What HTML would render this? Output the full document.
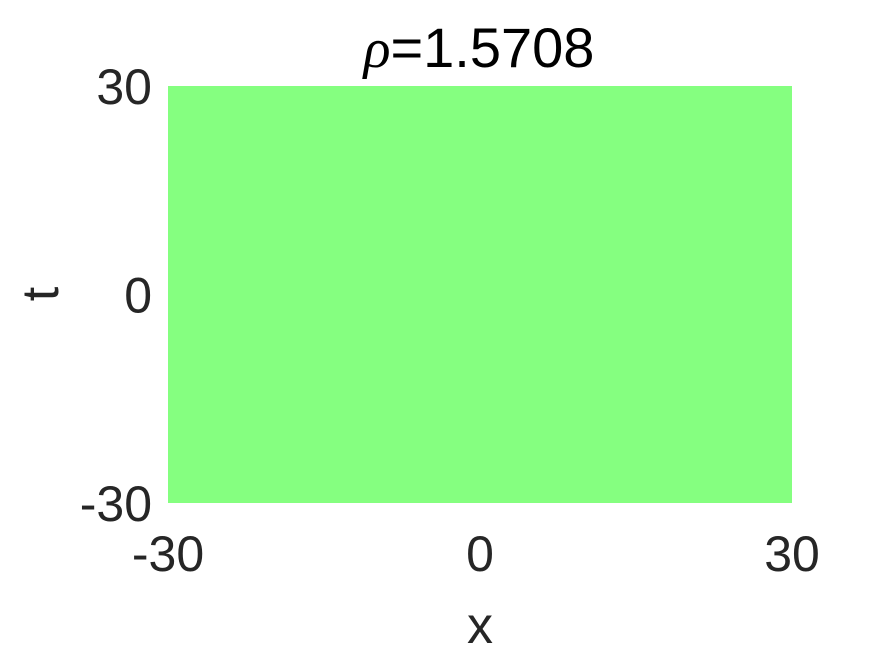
<!DOCTYPE html>
<html><head><meta charset="utf-8"><style>
body{margin:0;background:#fff;width:875px;height:656px;overflow:hidden;font-family:"Liberation Sans",sans-serif;}
</style></head><body>
<svg id="c" width="875" height="656" style="position:absolute;left:0;top:0">
<text x="479" y="67" font-size="56" fill="#000" text-anchor="middle"><tspan font-family="Liberation Serif" font-style="italic">ρ</tspan>=1.5708</text>
<text x="480" y="643" font-size="52" fill="#262626" text-anchor="middle">x</text>
<text x="58" y="294" font-size="52" fill="#262626" text-anchor="middle" transform="rotate(-90 58 294)">t</text>
<g id="plot"></g>
</svg>
<script>
const xTicks=[-30,0,30];
const yTicks=[-30,0,30];
const cellValues=[0.5];
const L=168,R=792,T=86,B=503;
const sx=v=>L+(v+30)/60*(R-L);
const sy=v=>B-(v+30)/60*(B-T);
const svg=document.getElementById('plot');
const ns='http://www.w3.org/2000/svg';
cellValues.forEach((v,i)=>{
const r=document.createElementNS(ns,'rect');
r.setAttribute('x',sx(-30));r.setAttribute('y',sy(30));
r.setAttribute('width',sx(30)-sx(-30));r.setAttribute('height',sy(-30)-sy(30));
r.setAttribute('fill','#85ff80');


svg.appendChild(r);
});
xTicks.forEach(t=>{
const e=document.createElementNS(ns,'text');
e.setAttribute('x',sx(t));e.setAttribute('y',571);e.setAttribute('font-size','50');e.setAttribute('fill','#262626');e.setAttribute('text-anchor','middle');
e.textContent=t;


svg.appendChild(e);
});
yTicks.forEach(t=>{
const e=document.createElementNS(ns,'text');
e.setAttribute('x',152);e.setAttribute('y',sy(t)+18);e.setAttribute('font-size','50');e.setAttribute('fill','#262626');e.setAttribute('text-anchor','end');
e.textContent=t;


svg.appendChild(e);
});
</script>
</body></html>
